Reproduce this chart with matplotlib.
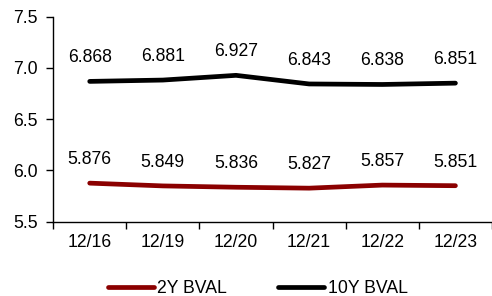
import matplotlib
matplotlib.use("Agg")
import matplotlib.pyplot as plt
import numpy as np

categories = ["12/16", "12/19", "12/20", "12/21", "12/22", "12/23"]
y2 = [5.876, 5.849, 5.836, 5.827, 5.857, 5.851]
y10 = [6.868, 6.881, 6.927, 6.843, 6.838, 6.851]
yticks = [5.5, 6.0, 6.5, 7.0, 7.5]

FS = 12.7
plt.rcParams['font.family'] = ['Liberation Sans', 'DejaVu Sans']
fig = plt.figure(figsize=(4.92, 2.96), dpi=100)
ax = fig.add_axes([0.108, 0.251, 0.892, 0.693])

x = np.arange(len(categories))
l2, = ax.plot(x, y2, color='#8B0000', lw=3.4, solid_capstyle='round', label='2Y BVAL')
l10, = ax.plot(x, y10, color='black', lw=3.4, solid_capstyle='round', label='10Y BVAL')

for xi, v in zip(x, y2):
    ax.annotate(f"{v:.3f}", (xi, v), xytext=(0, 17), textcoords='offset points',
                ha='center', va='center', fontsize=FS)
for xi, v in zip(x, y10):
    ax.annotate(f"{v:.3f}", (xi, v), xytext=(0, 17), textcoords='offset points',
                ha='center', va='center', fontsize=FS)

ax.set_xlim(-0.5, len(categories) - 0.5)
ax.set_ylim(5.5, 7.5)
ax.set_yticks(yticks)
ax.set_yticklabels([f"{t:.1f}" for t in yticks], fontsize=FS)
ax.set_xticks(x)
ax.set_xticklabels(categories, fontsize=FS)
ax.tick_params(axis='x', which='major', length=0, pad=9)
ax.set_xticks(np.arange(-0.5, len(categories) + 0.5, 1), minor=True)
ax.tick_params(axis='x', which='minor', length=5, width=1, direction='out')
ax.tick_params(axis='y', length=5, width=1, direction='out', pad=6)

for s in ['top', 'right']:
    ax.spines[s].set_visible(False)
for s in ['left', 'bottom']:
    ax.spines[s].set_linewidth(1)

fig.legend(handles=[l2, l10], loc='center', bbox_to_anchor=(0.524, 0.025), ncol=2,
           frameon=False, fontsize=FS, handlelength=2.6, handletextpad=0.2,
           columnspacing=2.9)

fig.savefig("out.png", dpi=100)
